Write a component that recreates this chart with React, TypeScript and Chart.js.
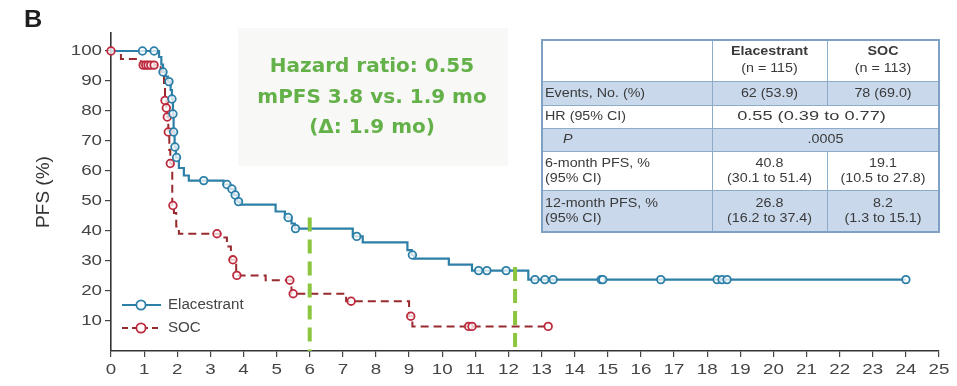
import React, { useEffect, useRef } from 'react';
import { Chart, registerables } from 'chart.js';

Chart.register(...registerables);

// Kaplan–Meier steps: month of each step and PFS (%) right after it
const elaTimes = [0, 1.45, 1.52, 1.57, 1.65, 1.72, 1.8, 1.84, 1.87, 1.89, 1.92, 1.96, 2.05, 2.2, 2.35, 3.4, 3.6, 3.72, 3.82, 3.9, 4.97, 5.25, 5.45, 5.55, 7.3, 7.6, 8.95, 9.08, 9.15, 10.2, 10.9, 12.6];
const elaPFS = [100, 98, 95.5, 93, 91.5, 89.8, 87, 84, 79, 73, 68, 64.5, 61, 58.5, 56.8, 55.5, 54, 52, 49.8, 48.8, 46.5, 44.5, 42.5, 40.8, 38.2, 36.2, 33.6, 32, 30.8, 28.8, 26.8, 23.8];
const elaEnd = 24.0;
const elaCensored = [0.95, 1.3, 1.57, 1.75, 1.84, 1.87, 1.89, 1.93, 1.98, 2.8, 3.5, 3.65, 3.75, 3.85, 5.35, 5.57, 7.42, 9.1, 11.1, 11.35, 11.93, 12.8, 13.1, 13.35, 14.8, 14.85, 16.6, 18.3, 18.45, 18.6, 24.0];

const socTimes = [0, 0.3, 0.9, 1.5, 1.6, 1.63, 1.67, 1.7, 1.73, 1.76, 1.79, 1.85, 1.9, 1.97, 2.05, 3.3, 3.5, 3.62, 3.78, 4.67, 5.45, 7.1, 9.0, 9.1];
const socPFS = [100, 97.3, 95.3, 93, 88, 83.5, 81, 78, 73, 67, 62.5, 48.5, 46, 41.5, 39.1, 37.8, 34.8, 30.4, 25.2, 23.6, 19.1, 16.6, 11.6, 8.2];
const socEnd = 13.2;
const socCensored = [0, 0.97, 1.05, 1.12, 1.2, 1.3, 1.63, 1.67, 1.7, 1.73, 1.79, 1.87, 3.2, 3.68, 3.8, 5.4, 5.5, 7.25, 9.05, 10.8, 10.9, 13.2];

// 6- and 12-month landmark markers
const landmarkMonths = [6, 12.2];
const landmarkTops = [44.5, 28];

const xTicks = [0, 1, 2, 3, 4, 5, 6, 7, 8, 9, 10, 11, 12, 13, 14, 15, 16, 17, 18, 19, 20, 21, 22, 23, 24, 25];
const yTicks = [10, 20, 30, 40, 50, 60, 70, 80, 90, 100];

const annotationLines = ['Hazard ratio: 0.55', 'mPFS 3.8 vs. 1.9 mo', '(\u0394: 1.9 mo)'];

const headerEla = ['Elacestrant', '(n = 115)'];
const headerSoc = ['SOC', '(n = 113)'];
const rowLabels = [['Events, No. (%)'], ['HR (95% CI)'], ['P'], ['6-month PFS, %', '(95% CI)'], ['12-month PFS, %', '(95% CI)']];
const rowEla = [['62 (53.9)'], ['0.55 (0.39 to 0.77)'], ['.0005'], ['40.8', '(30.1 to 51.4)'], ['26.8', '(16.2 to 37.4)']];
const rowSoc = [['78 (69.0)'], null, null, ['19.1', '(10.5 to 27.8)'], ['8.2', '(1.3 to 15.1)']];

const BLUE = '#2c7fa7';
const RED_LINE = '#982a2e';
const RED = '#bd2a3e';
const GREEN = '#8cc63f';
const SANS = '"Liberation Sans", Arial, sans-serif';

function stepAt(times: number[], values: number[], t: number): number {
  let v = values[0];
  for (let i = 0; i < times.length; i++) if (times[i] <= t) v = values[i];
  return v;
}

function curve(times: number[], values: number[], end: number) {
  const pts = times.map((t, i) => ({ x: t, y: values[i] }));
  pts.push({ x: end, y: values[values.length - 1] });
  return pts;
}

function marks(times: number[], values: number[], censored: number[]) {
  return censored.map((t) => ({ x: t, y: stepAt(times, values, t) }));
}

function text(ctx: CanvasRenderingContext2D, s: string, x: number, y: number, font: string, color: string, align: CanvasTextAlign, sx = 1) {
  ctx.save();
  ctx.translate(x, y);
  ctx.scale(sx, 1);
  ctx.font = font;
  ctx.fillStyle = color;
  ctx.textAlign = align;
  ctx.textBaseline = 'middle';
  ctx.fillText(s, 0, 0);
  ctx.restore();
}

function drawTable(ctx: CanvasRenderingContext2D) {
  const cx = [542, 712, 827, 939];
  const ry = [40, 81, 105, 128, 151, 190, 232];
  const shaded = [false, true, false, true, false, true];
  const font = `13px ${SANS}`;
  const bold = `bold 13px ${SANS}`;
  const ink = '#3a3a3a';
  const sx = 1.1;

  ctx.save();
  shaded.forEach((s, i) => {
    ctx.fillStyle = s ? '#c9d8eb' : '#ffffff';
    ctx.fillRect(cx[0], ry[i], cx[3] - cx[0], ry[i + 1] - ry[i]);
  });
  ctx.strokeStyle = '#8dacca';
  ctx.lineWidth = 1;
  for (let i = 1; i < ry.length - 1; i++) {
    ctx.beginPath();
    ctx.moveTo(cx[0], ry[i] + 0.5);
    ctx.lineTo(cx[3], ry[i] + 0.5);
    ctx.stroke();
  }
  ctx.beginPath();
  ctx.moveTo(cx[1] + 0.5, ry[0]);
  ctx.lineTo(cx[1] + 0.5, ry[6]);
  ctx.stroke();
  [[0, 2], [4, 6]].forEach(([a, b]) => {
    ctx.beginPath();
    ctx.moveTo(cx[2] + 0.5, ry[a]);
    ctx.lineTo(cx[2] + 0.5, ry[b]);
    ctx.stroke();
  });
  ctx.strokeStyle = '#7fa1c4';
  ctx.lineWidth = 2;
  ctx.strokeRect(cx[0], ry[0], cx[3] - cx[0], ry[6] - ry[0]);
  ctx.restore();

  const midE = (cx[1] + cx[2]) / 2;
  const midS = (cx[2] + cx[3]) / 2;
  const midBoth = (cx[1] + cx[3]) / 2;
  const hm = (ry[0] + ry[1]) / 2;
  text(ctx, headerEla[0], midE, hm - 9, bold, ink, 'center', sx);
  text(ctx, headerEla[1], midE, hm + 7.5, font, ink, 'center', sx);
  text(ctx, headerSoc[0], midS, hm - 9, bold, ink, 'center', sx);
  text(ctx, headerSoc[1], midS, hm + 7.5, font, ink, 'center', sx);

  rowLabels.forEach((lab, i) => {
    const mid = (ry[i + 1] + ry[i + 2]) / 2;
    const lineY = (n: number, k: number) => (n === 1 ? mid : mid + (k === 0 ? -7.5 : 7.5));
    lab.forEach((s, k) => {
      if (s === 'P') text(ctx, s, cx[0] + 21, lineY(lab.length, k), `italic 13px ${SANS}`, ink, 'left', sx);
      else text(ctx, s, cx[0] + 3, lineY(lab.length, k), font, ink, 'left', sx);
    });
    const e = rowEla[i];
    const so = rowSoc[i];
    if (so) {
      e.forEach((s, k) => text(ctx, s, midE, lineY(e.length, k), font, ink, 'center', sx));
      so.forEach((s, k) => text(ctx, s, midS, lineY(so.length, k), font, ink, 'center', sx));
    } else {
      const wide = i === 1 ? 1.4 : sx;
      e.forEach((s, k) => text(ctx, s, i === 1 ? midBoth - 14 : midBoth, lineY(e.length, k), font, ink, 'center', wide));
    }
  });
}

const decor = {
  id: 'decor',
  beforeDraw(chart: any) {
    const ctx: CanvasRenderingContext2D = chart.ctx;
    ctx.save();
    ctx.fillStyle = '#ffffff';
    ctx.fillRect(0, 0, chart.width, chart.height);
    ctx.fillStyle = '#f8f8f6';
    ctx.fillRect(238, 28, 270, 138);
    ctx.restore();
  },
  afterDraw(chart: any) {
    const ctx: CanvasRenderingContext2D = chart.ctx;
    const xs = chart.scales.x;
    const ys = chart.scales.y;
    const tickFont = `15px ${SANS}`;
    yTicks.forEach((v) => text(ctx, String(v), 102, ys.getPixelForValue(v), tickFont, '#444', 'right', 1.25));
    xTicks.forEach((v) => text(ctx, String(v), xs.getPixelForValue(v), 370, tickFont, '#444', 'center', 1.25));

    text(ctx, 'B', 24, 21, `bold 23px ${SANS}`, '#1e1e1e', 'left', 1.1);

    ctx.save();
    ctx.translate(44, (ys.top + ys.bottom) / 2);
    ctx.rotate(-Math.PI / 2);
    ctx.font = `19px ${SANS}`;
    ctx.fillStyle = '#333';
    ctx.textAlign = 'center';
    ctx.textBaseline = 'middle';
    ctx.fillText('PFS (%)', 0, 0);
    ctx.restore();

    annotationLines.forEach((s, i) => text(ctx, s, 372, 67 + i * 30.5, 'bold 20px "DejaVu Sans", sans-serif', '#63b148', 'center'));

    // legend
    const items = [
      { label: 'Elacestrant', line: BLUE, mark: BLUE, dash: [] as number[], y: 305 },
      { label: 'SOC', line: RED_LINE, mark: RED, dash: [6, 4], y: 328 },
    ];
    items.forEach((it) => {
      ctx.save();
      ctx.strokeStyle = it.line;
      ctx.lineWidth = 2.2;
      ctx.setLineDash(it.dash);
      ctx.beginPath();
      ctx.moveTo(122, it.y);
      ctx.lineTo(161, it.y);
      ctx.stroke();
      ctx.setLineDash([]);
      ctx.fillStyle = '#ffffff';
      ctx.strokeStyle = it.mark;
      ctx.lineWidth = 1.8;
      ctx.beginPath();
      ctx.arc(141, it.y, 4.6, 0, Math.PI * 2);
      ctx.fill();
      ctx.stroke();
      ctx.restore();
      text(ctx, it.label, 168, it.y, `14px ${SANS}`, '#444', 'left', 1.08);
    });

    drawTable(ctx);
  },
};

export default function App() {
  const ref = useRef<HTMLCanvasElement | null>(null);

  useEffect(() => {
    if (!ref.current) return;
    const markerStyle = (color: string) => ({
      showLine: false,
      pointRadius: 3.8,
      pointBorderWidth: 1.8,
      pointBorderColor: color,
      pointBackgroundColor: 'rgba(255,255,255,0.75)',
      borderColor: color,
      clip: false as const,
    });
    const landmarks = landmarkMonths.map((m, i) => ({
      label: `${m} months`,
      data: [{ x: m, y: landmarkTops[i] }, { x: m, y: 0 }],
      borderColor: GREEN,
      borderWidth: 4,
      borderDash: [14, 8],
      borderCapStyle: 'butt' as const,
      pointRadius: 0,
    }));

    const chart = new Chart(ref.current, {
      type: 'line',
      data: {
        datasets: [
          ...landmarks,
          { label: 'Elacestrant censored', data: marks(elaTimes, elaPFS, elaCensored), ...markerStyle(BLUE) },
          { label: 'SOC censored', data: marks(socTimes, socPFS, socCensored), ...markerStyle(RED) },
          { label: 'Elacestrant', data: curve(elaTimes, elaPFS, elaEnd), stepped: true, borderColor: BLUE, borderWidth: 2.2, pointRadius: 0 },
          { label: 'SOC', data: curve(socTimes, socPFS, socEnd), stepped: true, borderColor: RED_LINE, borderWidth: 2, borderDash: [8, 5], pointRadius: 0 },
        ] as any,
      },
      options: {
        animation: false,
        responsive: false,
        layout: { padding: { left: 0, top: 33, right: 18, bottom: 0 } },
        plugins: { legend: { display: false }, tooltip: { enabled: false } },
        scales: {
          x: {
            type: 'linear',
            min: 0,
            max: 25,
            afterBuildTicks: (s: any) => { s.ticks = xTicks.map((value) => ({ value })); },
            afterFit: (s: any) => { s.height = 35; },
            ticks: { display: false },
            grid: { drawOnChartArea: false, drawTicks: true, tickLength: 6, color: '#444', lineWidth: 1.2 },
            border: { display: true, color: '#333', width: 1.6 },
          },
          y: {
            type: 'linear',
            min: 0,
            max: 106,
            afterBuildTicks: (s: any) => { s.ticks = yTicks.map((value) => ({ value })); },
            afterFit: (s: any) => { s.width = 111; },
            ticks: { display: false },
            grid: { drawOnChartArea: false, drawTicks: true, tickLength: 6, color: '#444', lineWidth: 1.2 },
            border: { display: true, color: '#333', width: 1.6 },
          },
        },
      },
      plugins: [decor],
    });
    return () => chart.destroy();
  }, []);

  return (
    <div style={{ position: 'absolute', left: 0, top: 0, width: 957, height: 386, background: '#fff' }}>
      <canvas ref={ref} width={957} height={386} style={{ width: 957, height: 386, display: 'block' }} />
    </div>
  );
}
